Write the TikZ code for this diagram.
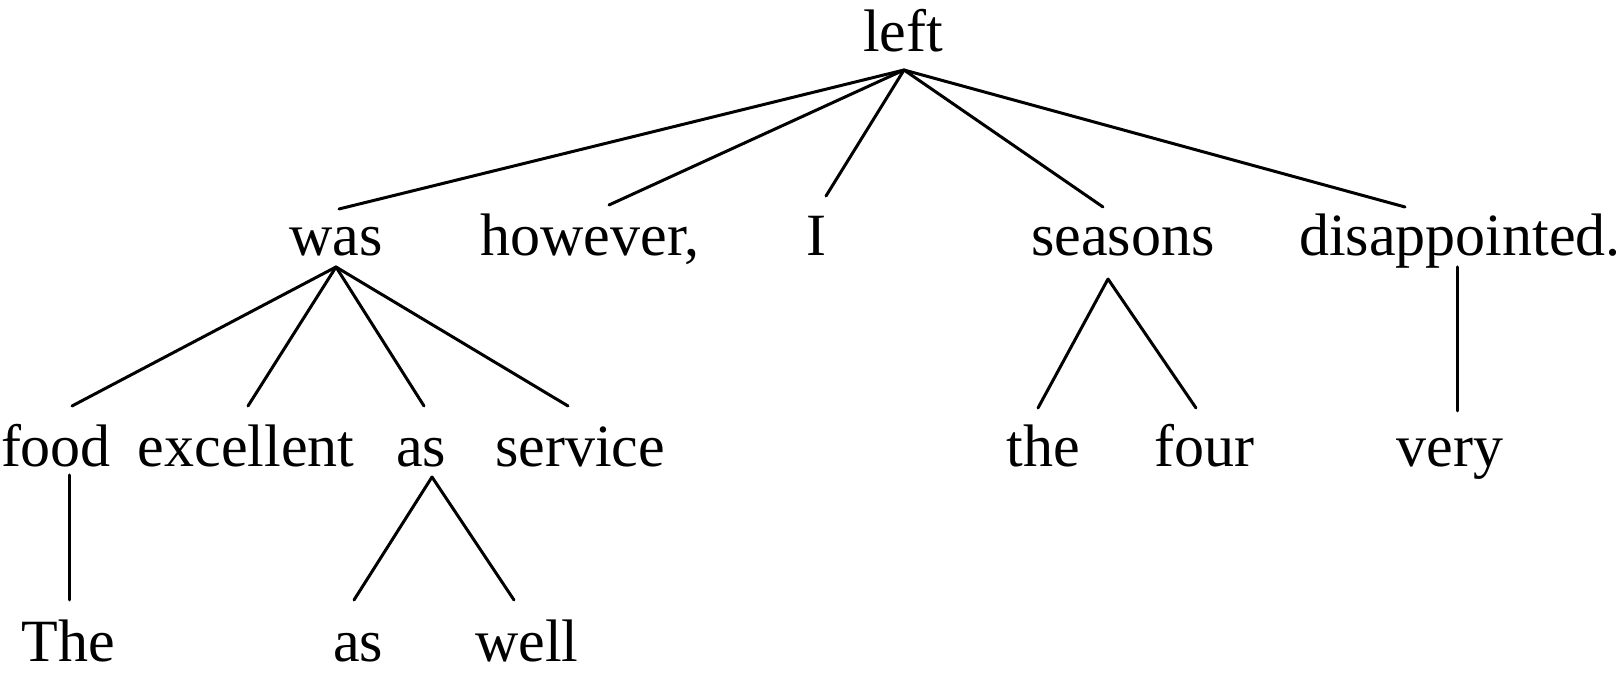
\documentclass[tikz,border=0pt]{standalone}
\usepackage{fontspec}
\setmainfont{Liberation Serif}
\begin{document}
\begin{tikzpicture}[x=1pt,y=1pt,
  word/.style={anchor=base,inner sep=0pt,font=\fontsize{60}{72}\selectfont},
  edge/.style={line width=3pt,line cap=round}]
\useasboundingbox (0,0) rectangle (1620,682);
% row 1
\node[word] (left) at (903,630) {left};
% row 2
\node[word] (was) at (336,426) {was};
\node[word] (however) at (590,426) {however,};
\node[word] (I) at (816,426) {I};
\node[word] (seasons) at (1123,426) {seasons};
\node[word] (disap) at (1460,426) {disappointed.};
% row 3
\node[word] (food) at (56,215) {food};
\node[word] (excellent) at (246,215) {excellent};
\node[word] (as) at (421,215) {as};
\node[word] (service) at (580,215) {service};
\node[word] (the) at (1043,215) {the};
\node[word] (four) at (1204,215) {four};
\node[word] (very) at (1450,215) {very};
% row 4
\node[word] (The) at (68,20) {The};
\node[word] (asb) at (358,20) {as};
\node[word] (well) at (527,20) {well};
% edges
\draw[edge] ([shift={(1,-18)}]left.base) -- ([shift={(3,47)}]was.base);
\draw[edge] ([shift={(1,-18)}]left.base) -- ([shift={(19,51)}]however.base);
\draw[edge] ([shift={(1,-18)}]left.base) -- ([shift={(10,60)}]I.base);
\draw[edge] ([shift={(1,-18)}]left.base) -- ([shift={(-20,49)}]seasons.base);
\draw[edge] ([shift={(1,-18)}]left.base) -- ([shift={(-55,49)}]disap.base);
\draw[edge] ([shift={(0,-11)}]was.base) -- ([shift={(16,61)}]food.base);
\draw[edge] ([shift={(0,-11)}]was.base) -- ([shift={(2,61)}]excellent.base);
\draw[edge] ([shift={(0,-11)}]was.base) -- ([shift={(3,61)}]as.base);
\draw[edge] ([shift={(0,-11)}]was.base) -- ([shift={(-12,61)}]service.base);
\draw[edge] ([shift={(13,-8)}]food.base) -- ([shift={(1,62)}]The.base);
\draw[edge] ([shift={(11,-10)}]as.base) -- ([shift={(-4,62)}]asb.base);
\draw[edge] ([shift={(11,-10)}]as.base) -- ([shift={(-13,62)}]well.base);
\draw[edge] ([shift={(-15,-23)}]seasons.base) -- ([shift={(-5,59)}]the.base);
\draw[edge] ([shift={(-15,-23)}]seasons.base) -- ([shift={(-8,59)}]four.base);
\draw[edge] ([shift={(-3,-11)}]disap.base) -- ([shift={(7,56)}]very.base);
\end{tikzpicture}
\end{document}
